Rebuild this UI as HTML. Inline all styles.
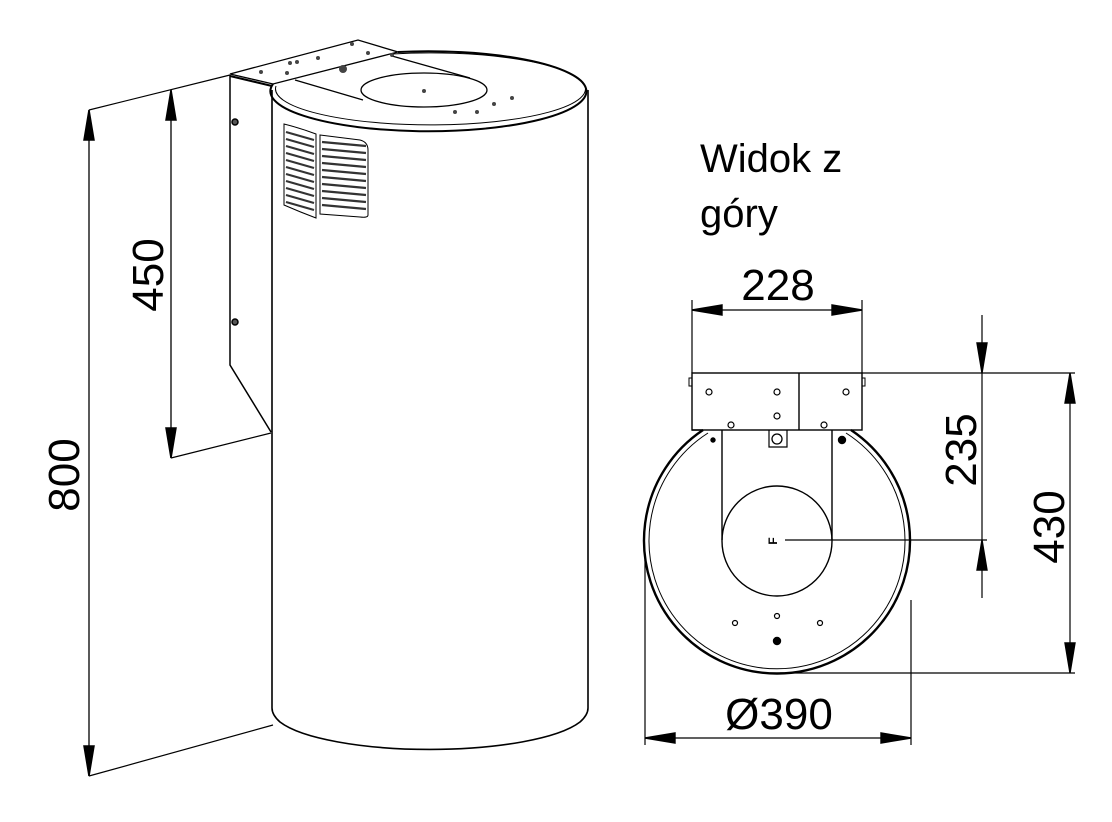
<!DOCTYPE html>
<html><head><meta charset="utf-8"><style>
html,body{margin:0;padding:0;background:#fff}
svg{display:block}
text{font-family:"Liberation Sans",Arial,sans-serif;fill:#000}
</style></head><body>
<svg width="1112" height="822" viewBox="0 0 1112 822" xmlns="http://www.w3.org/2000/svg">
<g fill="none" stroke="#000" stroke-width="1.5">
<!-- dimension 800 -->
<line x1="89" y1="110" x2="89" y2="776" stroke-width="1.3"/>
<path d="M84,140 L89,110 L94,140Z" fill="#000"/>
<path d="M84,746 L89,776 L94,746Z" fill="#000"/>
<line x1="89" y1="110" x2="230" y2="75" stroke-width="1.2"/>
<line x1="89" y1="776" x2="273" y2="725" stroke-width="1.2"/>
<!-- dimension 450 -->
<line x1="171" y1="90" x2="171" y2="458" stroke-width="1.3"/>
<path d="M166,120 L171,90 L176,120Z" fill="#000"/>
<path d="M166,428 L171,458 L176,428Z" fill="#000"/>
<line x1="171" y1="458" x2="271" y2="433" stroke-width="1.2"/>
<!-- bracket -->
<path d="M230,75 L230,365 L271,432"/>
<path d="M230,74 L358,40 L398,52 L273,84 Z" stroke-width="1.3" fill="#fff"/>
<line x1="230" y1="76" x2="272" y2="86" stroke-width="2"/>
<circle cx="235" cy="122" r="3" fill="#555"/>
<circle cx="235" cy="322" r="3" fill="#555"/>
<!-- cylinder -->
<path d="M272,90 L272,708 Q272,715 280,722 A158,40 0 0 0 580,722 Q588,715 588,708 L588,90" stroke-width="1.6"/>
<path d="M398,52 A158,40 0 1 1 273,84" stroke-width="2"/>
<path d="M392,54 A155,36 0 1 1 276,86" stroke-width="1"/>
<path d="M392,56 L470,78" stroke-width="1.2"/>
<path d="M295,80 L363,100" stroke-width="1.2"/>
<ellipse cx="424" cy="90" rx="63" ry="17" stroke-width="1.3"/>
<g fill="#444" stroke="none">
<circle cx="261" cy="72" r="2"/><circle cx="287" cy="73" r="2"/><circle cx="290" cy="63" r="2"/>
<circle cx="318" cy="58" r="2"/><circle cx="352" cy="44" r="2"/><circle cx="368" cy="53" r="2"/>
<circle cx="392" cy="55" r="2"/><circle cx="297" cy="62" r="2"/><circle cx="343" cy="69" r="4"/>
<circle cx="494" cy="104" r="2"/><circle cx="512" cy="98" r="2"/><circle cx="477" cy="112" r="2"/><circle cx="455" cy="112" r="2"/>
<circle cx="424" cy="91" r="2"/>
</g>
</g>
<!-- grille -->
<g fill="none" stroke="#000" stroke-width="1">
<path d="M284,124 Q300,128 316,134 L316,218 Q300,212 284,205 Z"/>
<path d="M320,135 L360,140 Q368,142 368,150 L368,215 Q368,218 360,217 L320,214 Z"/>
<g stroke-width="2.2" stroke="#333">
<path d="M286,132 L314,140 M286,139 L314,147 M286,146 L314,154 M286,153 L314,161 M286,160 L314,168 M286,167 L314,175 M286,174 L314,182 M286,181 L314,189 M286,188 L314,196 M286,195 L314,203 M286,202 L314,210"/>
<path d="M322,142 L366,146 M322,149 L366,153 M322,156 L366,160 M322,163 L366,167 M322,170 L366,174 M322,177 L366,181 M322,184 L366,188 M322,191 L366,195 M322,198 L366,202 M322,205 L366,209"/>
</g>
</g>
<text x="700" y="172" font-size="40">Widok z</text>
<text x="700" y="227" font-size="40">góry</text>
<!-- top view -->
<g fill="none" stroke="#000" stroke-width="1.4">
<line x1="692" y1="300" x2="692" y2="373" stroke-width="1.2"/>
<line x1="862" y1="300" x2="862" y2="373" stroke-width="1.2"/>
<line x1="692" y1="310" x2="862" y2="310" stroke-width="1.3"/>
<path d="M722,305 L692,310 L722,315Z" fill="#000"/>
<path d="M832,305 L862,310 L832,315Z" fill="#000"/>
<rect x="692" y="373" width="170" height="57"/>
<line x1="799" y1="373" x2="799" y2="430"/>
<rect x="689" y="378" width="3" height="8" stroke-width="1"/>
<rect x="862" y="378" width="3" height="8" stroke-width="1"/>
<path d="M703,430 A133,133 0 1 0 851,430" stroke-width="2.4"/>
<path d="M708,433 A128,128 0 1 0 846,433" stroke-width="1"/>
<line x1="692" y1="430" x2="703" y2="430"/>
<path d="M722,430 L722,540 M832,430 L832,540"/>
<circle cx="777" cy="541" r="55"/>
<path d="M769,430 L769,447 L787,447 L787,430" stroke-width="1.2"/>
<circle cx="777" cy="439" r="5" stroke-width="1.3"/>
<g stroke-width="1.2"><circle cx="709" cy="392" r="3"/><circle cx="777" cy="392" r="3"/><circle cx="846" cy="392" r="3"/><circle cx="777" cy="416" r="3"/><circle cx="731" cy="425" r="3"/><circle cx="824" cy="425" r="3"/>
<circle cx="735" cy="623" r="2.5"/><circle cx="777" cy="616" r="2.5"/><circle cx="820" cy="623" r="2.5"/></g>
<circle cx="777" cy="641" r="3.5" fill="#000"/>
<circle cx="842" cy="440" r="3.5" fill="#000"/>
<circle cx="713" cy="440" r="2" fill="#000"/>
<line x1="785" y1="540" x2="987" y2="540" stroke-width="1.2"/>
<!-- 235 -->
<line x1="982" y1="315" x2="982" y2="598" stroke-width="1.2"/>
<path d="M977,343 L982,373 L987,343Z" fill="#000"/>
<path d="M977,570 L982,540 L987,570Z" fill="#000"/>
<line x1="862" y1="373" x2="1075" y2="373" stroke-width="1.2"/>
<!-- 430 -->
<line x1="1070" y1="373" x2="1070" y2="673" stroke-width="1.2"/>
<path d="M1065,403 L1070,373 L1075,403Z" fill="#000"/>
<path d="M1065,643 L1070,673 L1075,643Z" fill="#000"/>
<line x1="780" y1="673" x2="1075" y2="673" stroke-width="1.2"/>
<!-- 390 -->
<line x1="645" y1="560" x2="645" y2="745" stroke-width="1.2"/>
<line x1="911" y1="600" x2="911" y2="745" stroke-width="1.2"/>
<line x1="645" y1="738" x2="911" y2="738" stroke-width="1.2"/>
<path d="M675,733 L645,738 L675,743Z" fill="#000"/>
<path d="M881,733 L911,738 L881,743Z" fill="#000"/>
</g>
<text x="772" y="546" font-size="12" font-weight="bold" transform="rotate(-90 772 541)" text-anchor="middle">F</text>
<text x="778" y="300" font-size="44" text-anchor="middle">228</text>
<text x="779" y="729" font-size="44" text-anchor="middle">Ø390</text>
<text font-size="44" text-anchor="middle" transform="translate(976,450) rotate(-90)">235</text>
<text font-size="44" text-anchor="middle" transform="translate(1064,527) rotate(-90)">430</text>
<text font-size="44" text-anchor="middle" transform="translate(163,275) rotate(-90)">450</text>
<text font-size="44" text-anchor="middle" transform="translate(79,475) rotate(-90)">800</text>
</svg>
</body></html>
